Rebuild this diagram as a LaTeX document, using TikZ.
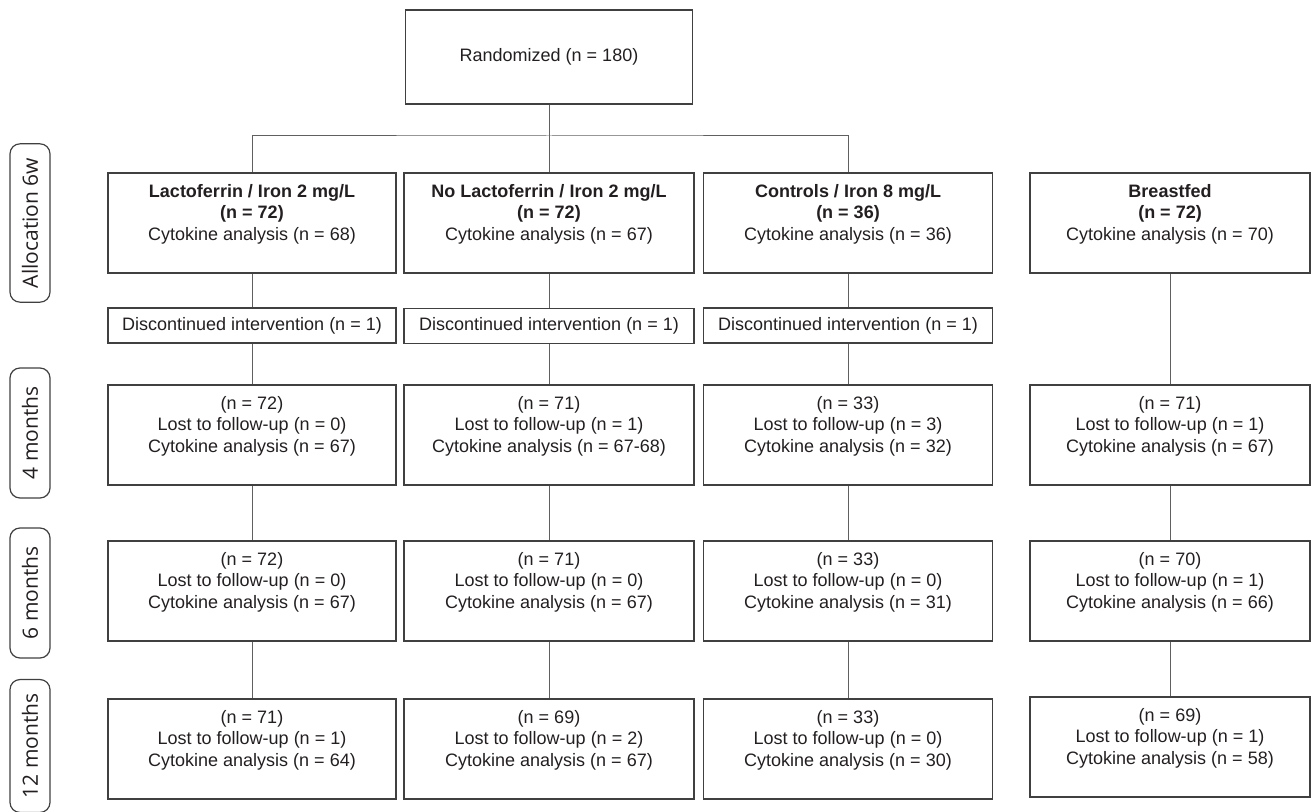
\documentclass[tikz,border=0pt]{standalone}
\usepackage{fontspec}
\setmainfont{Liberation Sans}
\newfontfamily\labelfont{Open Sans}
\usepackage{xcolor}
\definecolor{boxgray}{RGB}{64,64,64}
\definecolor{linegray}{RGB}{96,96,96}
\definecolor{textgray}{RGB}{35,31,32}
\usetikzlibrary{positioning}

\tikzset{
  flowbox/.style={draw=boxgray, line width=0.7pt, align=center, text=textgray,
    font=\fontsize{9}{10.8}\selectfont, inner sep=2pt},
  groupbox/.style={flowbox, minimum height=50pt},
  dropbox/.style={flowbox, minimum height=17.5pt},
  timelabel/.style={draw=boxgray, line width=0.6pt, rounded corners=5pt, rotate=90,
    minimum width=65pt, minimum height=20pt, inner xsep=7pt, inner ysep=2pt,
    font=\labelfont\fontsize{10.5}{12}\selectfont, text=textgray},
  link/.style={draw=linegray, line width=0.5pt}
}

\begin{document}
\begin{tikzpicture}[x=0.5pt, y=-0.5pt]
  \useasboundingbox (0,0) rectangle (1311,812);

  % Time points on the left
  \node[timelabel] (lbl0)  at (30,223) {Allocation 6w};
  \node[timelabel] (lbl4)  at (30,433) {4 months};
  \node[timelabel] (lbl6)  at (30,593) {6 months};
  \node[timelabel] (lbl12) at (30,746) {12 months};

  % Randomization
  \node[flowbox, minimum width=143.5pt, minimum height=47pt] (rand) at (549,57) {Randomized (n = 180)};
  \coordinate (split) at (549,136);

  % --- Allocation 6w ---
  \node[groupbox, minimum width=144pt] (lac0) at (252,223)
    {\textbf{Lactoferrin / Iron 2 mg/L}\\\textbf{(n = 72)}\\Cytokine analysis (n = 68)\\\mbox{}};
  \node[groupbox, minimum width=145pt] (nol0) at (549,223)
    {\textbf{No Lactoferrin / Iron 2 mg/L}\\\textbf{(n = 72)}\\Cytokine analysis (n = 67)\\\mbox{}};
  \node[groupbox, minimum width=144.5pt] (ctl0) at (848,223)
    {\textbf{Controls / Iron 8 mg/L}\\\textbf{(n = 36)}\\Cytokine analysis (n = 36)\\\mbox{}};
  \node[groupbox, minimum width=140pt] (bf0) at (1170,223)
    {\textbf{Breastfed}\\\textbf{(n = 72)}\\Cytokine analysis (n = 70)\\\mbox{}};

  % --- Discontinued ---
  \node[dropbox, minimum width=144pt]   (lacd) at (252,325.5) {Discontinued intervention (n = 1)};
  \node[dropbox, minimum width=145pt]   (nold) at (549,326)   {Discontinued intervention (n = 1)};
  \node[dropbox, minimum width=144.5pt] (ctld) at (848,325.5) {Discontinued intervention (n = 1)};

  % --- 4 months ---
  \node[groupbox, minimum width=144pt] (lac4) at (252,435)
    {(n = 72)\\Lost to follow-up (n = 0)\\Cytokine analysis (n = 67)\\\mbox{}};
  \node[groupbox, minimum width=145pt] (nol4) at (549,435)
    {(n = 71)\\Lost to follow-up (n = 1)\\Cytokine analysis (n = 67-68)\\\mbox{}};
  \node[groupbox, minimum width=144.5pt] (ctl4) at (848,435)
    {(n = 33)\\Lost to follow-up (n = 3)\\Cytokine analysis (n = 32)\\\mbox{}};
  \node[groupbox, minimum width=140pt] (bf4) at (1170,435)
    {(n = 71)\\Lost to follow-up (n = 1)\\Cytokine analysis (n = 67)\\\mbox{}};

  % --- 6 months ---
  \node[groupbox, minimum width=144pt] (lac6) at (252,591)
    {(n = 72)\\Lost to follow-up (n = 0)\\Cytokine analysis (n = 67)\\\mbox{}};
  \node[groupbox, minimum width=145pt] (nol6) at (549,591)
    {(n = 71)\\Lost to follow-up (n = 0)\\Cytokine analysis (n = 67)\\\mbox{}};
  \node[groupbox, minimum width=144.5pt] (ctl6) at (848,591)
    {(n = 33)\\Lost to follow-up (n = 0)\\Cytokine analysis (n = 31)\\\mbox{}};
  \node[groupbox, minimum width=140pt] (bf6) at (1170,591)
    {(n = 70)\\Lost to follow-up (n = 1)\\Cytokine analysis (n = 66)\\\mbox{}};

  % --- 12 months ---
  \node[groupbox, minimum width=144pt] (lac12) at (252,749)
    {(n = 71)\\Lost to follow-up (n = 1)\\Cytokine analysis (n = 64)\\\mbox{}};
  \node[groupbox, minimum width=145pt] (nol12) at (549,749)
    {(n = 69)\\Lost to follow-up (n = 2)\\Cytokine analysis (n = 67)\\\mbox{}};
  \node[groupbox, minimum width=144.5pt] (ctl12) at (848,749)
    {(n = 33)\\Lost to follow-up (n = 0)\\Cytokine analysis (n = 30)\\\mbox{}};
  \node[groupbox, minimum width=140pt] (bf12) at (1170,747)
    {(n = 69)\\Lost to follow-up (n = 1)\\Cytokine analysis (n = 58)\\\mbox{}};

  % Connectors
  \draw[link] (rand) -- (split);
  \draw[link] (lac0.north) |- (split) -| (ctl0.north);
  \draw[link] (split) -- (nol0.north);
  \draw[link] (lac0) -- (lacd) -- (lac4) -- (lac6) -- (lac12);
  \draw[link] (nol0) -- (nold) -- (nol4) -- (nol6) -- (nol12);
  \draw[link] (ctl0) -- (ctld) -- (ctl4) -- (ctl6) -- (ctl12);
  \draw[link] (bf0) -- (bf4) -- (bf6) -- (bf12);
\end{tikzpicture}
\end{document}
